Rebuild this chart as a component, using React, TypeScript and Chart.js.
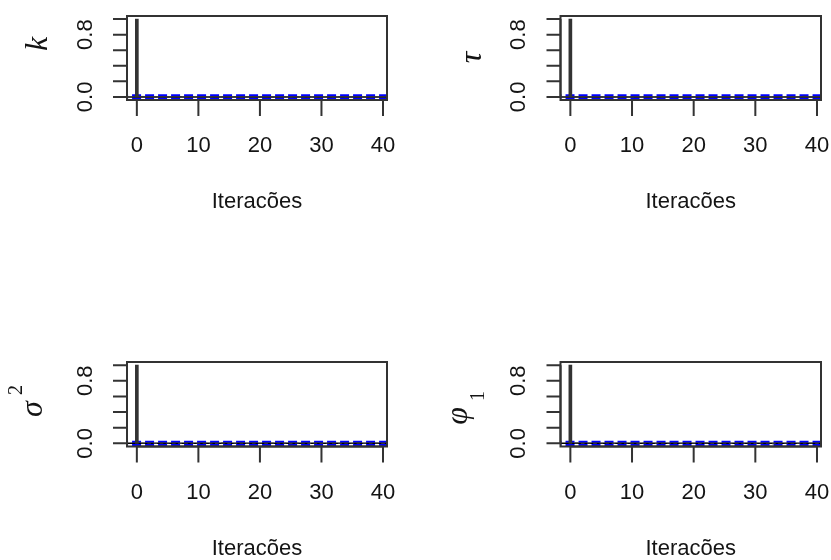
import React, { useEffect, useRef } from "react";
import { Chart, registerables } from "chart.js";
Chart.register(...registerables);

// ---- data ----
const lags = [0, 1, 2, 3, 4, 5, 6, 7, 8, 9, 10, 11, 12, 13, 14, 15, 16, 17, 18, 19, 20, 21, 22, 23, 24, 25, 26, 27, 28, 29, 30, 31, 32, 33, 34, 35, 36, 37, 38, 39, 40];
const acfKappa = [1, 0.008, 0.004, -0.003, 0.005, -0.006, 0.002, 0.007, -0.004, 0.003, -0.002, 0.006, -0.005, 0.004, 0.001, -0.003, 0.005, -0.004, 0.002, 0.006, -0.003, 0.004, -0.006, 0.003, 0.002, -0.004, 0.005, -0.002, 0.003, -0.005, 0.004, 0.002, -0.003, 0.006, -0.004, 0.001, 0.003, -0.005, 0.004, -0.002, 0.003];
const acfTau = [1, 0.006, -0.004, 0.005, 0.002, -0.003, 0.006, -0.005, 0.004, 0.001, -0.006, 0.003, 0.005, -0.002, 0.004, -0.004, 0.002, 0.006, -0.003, 0.001, 0.005, -0.005, 0.003, 0.004, -0.002, 0.006, -0.004, 0.002, -0.003, 0.005, 0.001, -0.004, 0.006, -0.002, 0.003, 0.004, -0.005, 0.002, 0.009, -0.003, 0.004];
const acfSigma2 = [1, 0.005, 0.003, -0.004, 0.006, -0.002, 0.004, -0.005, 0.003, 0.002, -0.004, 0.005, 0.001, -0.003, 0.006, -0.004, 0.002, 0.003, -0.005, 0.004, 0.002, -0.003, 0.005, -0.002, 0.004, -0.006, 0.003, 0.001, -0.004, 0.005, -0.003, 0.002, 0.004, -0.005, 0.003, -0.002, 0.006, -0.004, 0.002, 0.003, -0.003];
const acfPhi1 = [1, 0.007, -0.003, 0.004, -0.005, 0.002, 0.006, -0.004, 0.003, -0.002, 0.005, -0.006, 0.004, 0.002, -0.003, 0.005, -0.002, 0.004, -0.005, 0.003, 0.001, -0.004, 0.006, -0.003, 0.002, 0.004, -0.005, 0.003, -0.002, 0.005, -0.004, 0.002, 0.003, -0.006, 0.004, -0.002, 0.005, -0.003, 0.002, 0.004, -0.004];
const ciBound = 0.02;
const xTicks = [0, 10, 20, 30, 40];
const xTickLabels = ["0", "10", "20", "30", "40"];
const yTicks = [0, 0.2, 0.4, 0.6, 0.8, 1.0];
const yTickLabels = ["0.0", "", "", "", "0.8", ""];
const xTitle = "Iteracões";

const SANS = '"Liberation Sans", Arial, sans-serif';
const SERIF = '"Liberation Serif", "DejaVu Serif", serif';
const INK = "#141414";
const LINE = "#333333";

type YLab = {
  base: string;
  baseX: number;
  baseY: number;
  script?: string;
  scriptX?: number;
  scriptY?: number;
};

type PanelProps = {
  left: number;
  top: number;
  width: number;
  height: number;
  padding: { left: number; right: number; top: number; bottom: number };
  values: number[];
  ylab: YLab;
};

function Panel(props: PanelProps) {
  const ref = useRef<HTMLCanvasElement | null>(null);
  useEffect(() => {
    const canvas = ref.current;
    if (!canvas) return;
    const { values, ylab } = props;
    const axesPlugin = {
      id: "rAxes",
      afterDraw(chart: any) {
        const { ctx, chartArea: a, scales } = chart;
        const xs = scales.x;
        const ys = scales.y;
        ctx.save();
        ctx.strokeStyle = LINE;
        ctx.lineWidth = 2;
        ctx.strokeRect(a.left, a.top, a.right - a.left, a.bottom - a.top);
        ctx.beginPath();
        ctx.moveTo(a.left, ys.getPixelForValue(yTicks[0]));
        ctx.lineTo(a.left, ys.getPixelForValue(yTicks[yTicks.length - 1]));
        yTicks.forEach((v) => {
          const py = ys.getPixelForValue(v);
          ctx.moveTo(a.left, py);
          ctx.lineTo(a.left - 14, py);
        });
        ctx.moveTo(xs.getPixelForValue(xTicks[0]), a.bottom);
        ctx.lineTo(xs.getPixelForValue(xTicks[xTicks.length - 1]), a.bottom);
        xTicks.forEach((v) => {
          const px = xs.getPixelForValue(v);
          ctx.moveTo(px, a.bottom);
          ctx.lineTo(px, a.bottom + 16);
        });
        ctx.stroke();
        ctx.fillStyle = INK;
        ctx.font = `22px ${SANS}`;
        ctx.textAlign = "center";
        ctx.textBaseline = "middle";
        xTicks.forEach((v, i) => {
          ctx.fillText(xTickLabels[i], xs.getPixelForValue(v), a.bottom + 46);
        });
        ctx.fillText(xTitle, (a.left + a.right) / 2, a.bottom + 102);
        yTicks.forEach((v, i) => {
          if (!yTickLabels[i]) return;
          ctx.save();
          ctx.translate(a.left - 41.5, ys.getPixelForValue(v));
          ctx.rotate(-Math.PI / 2);
          ctx.fillText(yTickLabels[i], 0, 0);
          ctx.restore();
        });
        ctx.textBaseline = "alphabetic";
        ctx.save();
        ctx.translate(ylab.baseX, ylab.baseY);
        ctx.rotate(-Math.PI / 2);
        ctx.font = `italic 32px ${SERIF}`;
        ctx.fillText(ylab.base, 0, 0);
        ctx.restore();
        if (ylab.script) {
          ctx.save();
          ctx.translate(ylab.scriptX as number, ylab.scriptY as number);
          ctx.rotate(-Math.PI / 2);
          ctx.font = `20px ${SERIF}`;
          ctx.fillText(ylab.script, 0, 0);
          ctx.restore();
        }
        ctx.restore();
      },
    };
    const chart = new Chart(canvas, {
      type: "bar",
      data: {
        datasets: [
          {
            type: "bar",
            data: lags.map((l, i) => ({ x: l, y: values[i] })),
            backgroundColor: "#333333",
            barThickness: 3,
            grouped: false,
          } as any,
          {
            type: "line",
            data: [{ x: -5, y: 0 }, { x: 50, y: 0 }],
            borderColor: "#000000",
            borderWidth: 1.5,
            pointRadius: 0,
          },
          {
            type: "line",
            data: [{ x: -5, y: ciBound }, { x: 50, y: ciBound }],
            borderColor: "#0000ff",
            borderWidth: 2,
            borderDash: [9, 4],
            pointRadius: 0,
          },
          {
            type: "line",
            data: [{ x: -5, y: -ciBound }, { x: 50, y: -ciBound }],
            borderColor: "#0000ff",
            borderWidth: 2,
            borderDash: [9, 4],
            pointRadius: 0,
          },
        ],
      },
      options: {
        responsive: false,
        animation: false,
        devicePixelRatio: 1,
        layout: { padding: props.padding },
        scales: {
          x: { type: "linear", min: -1.6, max: 40.65, offset: false, display: false },
          y: { type: "linear", min: -0.04, max: 1.04, display: false },
        },
        plugins: { legend: { display: false }, tooltip: { enabled: false } },
      },
      plugins: [axesPlugin],
    } as any);
    return () => chart.destroy();
  }, []);
  return (
    <canvas
      ref={ref}
      width={props.width}
      height={props.height}
      style={{ position: "absolute", left: props.left, top: props.top, width: props.width, height: props.height }}
    />
  );
}

export default function App() {
  return (
    <div style={{ position: "absolute", left: 0, top: 0, width: 831, height: 560, background: "#ffffff" }}>
      <Panel
        left={0}
        top={0}
        width={415}
        height={280}
        padding={{ left: 127, right: 28, top: 16, bottom: 180 }}
        values={acfKappa}
        ylab={{ base: "k", baseX: 47, baseY: 44 }}
      />
      <Panel
        left={415}
        top={0}
        width={416}
        height={280}
        padding={{ left: 145.5, right: 10, top: 16, bottom: 180 }}
        values={acfTau}
        ylab={{ base: "τ", baseX: 481 - 415, baseY: 57.5 }}
      />
      <Panel
        left={0}
        top={280}
        width={415}
        height={280}
        padding={{ left: 127, right: 28, top: 82, bottom: 113.5 }}
        values={acfSigma2}
        ylab={{ base: "σ", baseX: 42, baseY: 409 - 280, script: "2", scriptX: 22, scriptY: 390 - 280 }}
      />
      <Panel
        left={415}
        top={280}
        width={416}
        height={280}
        padding={{ left: 145.5, right: 10, top: 82, bottom: 113.5 }}
        values={acfPhi1}
        ylab={{ base: "φ", baseX: 467 - 415, baseY: 416 - 280, script: "1", scriptX: 484 - 415, scriptY: 396 - 280 }}
      />
    </div>
  );
}
